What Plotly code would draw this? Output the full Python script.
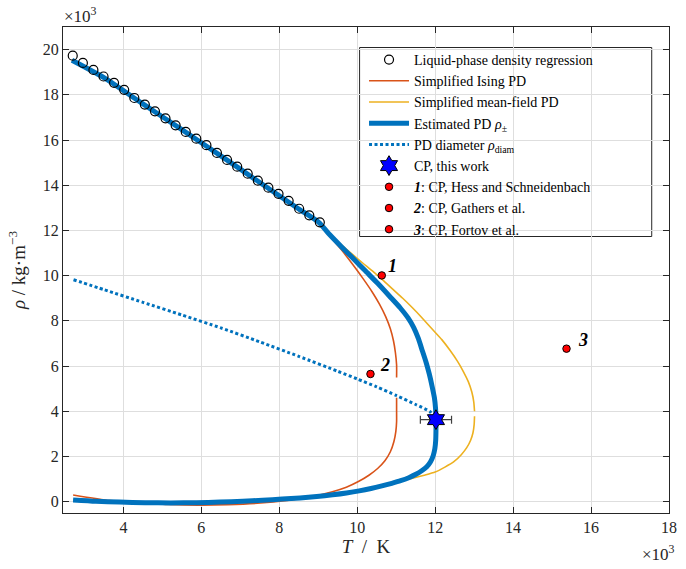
import plotly.graph_objects as go

# ---- data (T in 10^3 K, rho in 10^3 kg/m^3) ----
reg_T = [2.70, 2.96, 3.23, 3.49, 3.76, 4.02, 4.28, 4.55, 4.81, 5.08, 5.34, 5.60, 5.87,
         6.13, 6.40, 6.66, 6.92, 7.19, 7.45, 7.72, 7.98, 8.24, 8.51, 8.77, 9.04]
reg_rho = [19.73, 19.41, 19.10, 18.81, 18.53, 18.22, 17.86, 17.57, 17.27, 16.96, 16.65, 16.36, 16.06,
           15.77, 15.43, 15.12, 14.82, 14.51, 14.20, 13.89, 13.62, 13.31, 12.96, 12.67, 12.36]

est_liq_T = [2.68, 3.5, 4.5, 5.5, 6.5, 7.5, 8.5, 9.02, 9.29, 9.6, 9.91, 10.22, 10.53, 10.83, 11.10,
             11.30, 11.45, 11.57, 11.67, 11.77, 11.85, 11.92, 11.98, 12.01, 12.02]
est_liq_rho = [19.53, 18.76, 17.6, 16.46, 15.3, 14.12, 12.95, 12.35, 11.82, 11.27, 10.74, 10.19, 9.65, 9.09, 8.58,
               8.14, 7.70, 7.21, 6.68, 6.15, 5.64, 5.11, 4.60, 4.12, 3.63]
est_vap_T = [12.02, 12.02, 12.013, 11.992, 11.949, 11.881, 11.785, 11.663, 11.506, 11.324, 11.114, 10.886,
             10.633, 10.354, 10.051, 9.722, 9.367, 8.962, 8.532, 8.076, 7.570, 7.063, 6.481, 5.873, 5.215,
             4.557, 3.899, 3.291, 2.709]
est_vap_rho = [3.63, 3.142, 2.699, 2.345, 2.035, 1.770, 1.549, 1.381, 1.212, 1.062, 0.929, 0.814,
               0.699, 0.584, 0.478, 0.385, 0.305, 0.230, 0.168, 0.115, 0.066, 0.018, -0.018, -0.044, -0.053,
               -0.044, -0.018, 0.018, 0.075]

ising_liq_T = [2.68, 3.5, 4.5, 5.5, 6.5, 7.5, 8.5, 9.02, 9.29, 9.6, 9.9, 10.15, 10.38, 10.57, 10.73,
               10.85, 10.93, 10.98, 11.01, 11.01]
ising_liq_rho = [19.48, 18.74, 17.59, 16.45, 15.29, 14.11, 12.94, 12.34, 11.77, 11.13, 10.46, 9.87, 9.29, 8.74, 8.19,
                 7.65, 7.12, 6.59, 6.06, 5.49]
ising_vap_T = [11.01, 11.01, 11.01, 10.99, 10.94, 10.85, 10.71, 10.53, 10.30, 10.03, 9.72, 9.34, 8.79,
               8.20, 7.52, 6.68, 5.92, 5.17, 4.41, 3.65, 2.71]
ising_vap_rho = [4.60, 4.07, 3.54, 3.10, 2.65, 2.21, 1.81, 1.48, 1.17, 0.89, 0.64, 0.43, 0.21,
                 0.06, -0.06, -0.13, -0.15, -0.12, -0.04, 0.05, 0.30]

mf_liq_T = [2.68, 3.5, 4.5, 5.5, 6.5, 7.5, 8.5, 9.02, 9.29, 9.6, 9.87, 10.14, 10.41, 10.66, 10.91, 11.16,
            11.41, 11.66, 11.91, 12.17, 12.38, 12.57, 12.72, 12.85, 12.94, 12.99, 13.01]
mf_liq_rho = [19.53, 18.76, 17.6, 16.46, 15.3, 14.12, 12.95, 12.35, 11.84, 11.35, 10.95, 10.56, 10.18, 9.80, 9.40, 9.01,
              8.59, 8.14, 7.66, 7.17, 6.70, 6.22, 5.77, 5.31, 4.85, 4.42, 4.00]
mf_vap_T = [13.01, 13.0, 12.97, 12.91, 12.81, 12.67, 12.48, 12.25, 12.0, 11.72, 11.42, 11.114, 10.886,
            10.633, 10.354, 10.051, 9.722, 9.367, 8.962, 8.532, 8.076, 7.570, 7.063, 6.481, 5.873, 5.215,
            4.557, 3.899, 3.291, 2.709]
mf_vap_rho = [3.78, 3.41, 3.05, 2.72, 2.39, 2.08, 1.77, 1.53, 1.31, 1.17, 1.04, 0.929, 0.814,
              0.699, 0.584, 0.478, 0.385, 0.305, 0.230, 0.168, 0.115, 0.066, 0.018, -0.018, -0.044, -0.053,
              -0.044, -0.018, 0.018, 0.075]

diam_T = [2.72, 3.5, 4.5, 5.5, 6.5, 7.5, 8.5, 9.5, 10.0, 10.5, 11.0, 11.5, 11.87, 12.02]
diam_rho = [9.82, 9.38, 8.82, 8.26, 7.69, 7.07, 6.43, 5.77, 5.43, 5.08, 4.7, 4.3, 3.98, 3.63]

cp_T, cp_rho, cp_err = [12.02], [3.63], [0.4]
lit_T = [10.63, 10.34, 15.37]
lit_rho = [10.01, 5.65, 6.77]
lit_labels = ["1", "2", "3"]
lit_names = [": CP, Hess and Schneidenbach", ": CP, Gathers et al.", ": CP, Fortov et al."]
lit_label_dx = [4, 8, 9]   # label offsets in px (style)

xticks = [4, 6, 8, 10, 12, 14, 16, 18]
yticks = [0, 2, 4, 6, 8, 10, 12, 14, 16, 18, 20]

BLUE, ORANGE, YELLOW = "#0072BD", "#D95319", "#EDB120"
FONT = "'Liberation Serif', 'DejaVu Serif', serif"
INK = "#262626"

fig = go.Figure()

sp = dict(shape="spline", smoothing=0.6)
fig.add_trace(go.Scatter(x=ising_liq_T + [None] + ising_vap_T, y=ising_liq_rho + [None] + ising_vap_rho,
                         mode="lines", line=dict(color=ORANGE, width=1.6, **sp),
                         name="Simplified Ising PD", legendrank=2, connectgaps=False))
fig.add_trace(go.Scatter(x=mf_liq_T + [None] + mf_vap_T, y=mf_liq_rho + [None] + mf_vap_rho,
                         mode="lines", line=dict(color=YELLOW, width=1.6, **sp),
                         name="Simplified mean-field PD", legendrank=3, connectgaps=False))
fig.add_trace(go.Scatter(x=est_liq_T + est_vap_T[1:], y=est_liq_rho + est_vap_rho[1:],
                         mode="lines", line=dict(color=BLUE, width=5, **sp),
                         name="Estimated PD <i>ρ</i><sub>±</sub>", legendrank=4))
fig.add_trace(go.Scatter(x=diam_T, y=diam_rho, mode="lines",
                         line=dict(color=BLUE, width=3, dash="3px,2.5px", **sp),
                         name="PD diameter <i>ρ</i><sub>diam</sub>", legendrank=5))
fig.add_trace(go.Scatter(x=reg_T, y=reg_rho, mode="markers",
                         marker=dict(symbol="circle-open", size=9, color="black", line=dict(width=1.2)),
                         name="Liquid-phase density regression", legendrank=1))
fig.add_trace(go.Scatter(x=cp_T, y=cp_rho, mode="markers",
                         marker=dict(symbol="hexagram", size=15, color="#0000FF", line=dict(color="black", width=1)),
                         error_x=dict(type="data", array=cp_err, color="#404040", thickness=1.2, width=4),
                         name="CP, this work", legendrank=6))
for i in range(3):
    fig.add_trace(go.Scatter(x=[lit_T[i]], y=[lit_rho[i]], mode="markers",
                             marker=dict(symbol="circle", size=7.5, color="#FF0000", line=dict(color="black", width=1)),
                             name="<b><i>" + lit_labels[i] + "</i></b>" + lit_names[i], legendrank=7 + i))
    fig.add_annotation(x=lit_T[i], y=lit_rho[i], text="<b><i>" + lit_labels[i] + "</i></b>", showarrow=False,
                       xanchor="left", yanchor="bottom", xshift=lit_label_dx[i], yshift=-3,
                       font=dict(family=FONT, size=18, color="black"))

axis_common = dict(showline=True, linecolor=INK, linewidth=1, mirror="ticks", ticks="inside",
                   ticklen=6, tickcolor=INK, showgrid=True, gridcolor="#dedede", gridwidth=1,
                   zeroline=False, tickfont=dict(family=FONT, size=16, color=INK))

W, H, L, T_M = 614, 486, 63, 27
fig.update_layout(
    width=686, height=569, margin=dict(l=L, r=9, t=T_M, b=56),
    paper_bgcolor="white", plot_bgcolor="white",
    xaxis=dict(range=[2.45, 18], tickvals=xticks, ticktext=[str(v) for v in xticks],
               title=dict(text="<i>T</i>\u00a0\u00a0/\u00a0\u00a0K", font=dict(family=FONT, size=19, color=INK), standoff=4),
               **axis_common),
    yaxis=dict(range=[-0.5, 21], tickvals=yticks, ticktext=[str(v) for v in yticks],
               title=dict(text="<i>ρ</i> / kg·m<sup>−3</sup>", font=dict(family=FONT, size=19, color=INK), standoff=12),
               **axis_common),
    legend=dict(x=(368 - L) / W, y=1 - (44 - T_M) / H, xanchor="left", yanchor="top", bgcolor="rgba(0,0,0,0)",
                borderwidth=0, font=dict(family=FONT, size=14, color="black"),
                tracegroupgap=0, itemwidth=40),
    showlegend=True,
    shapes=[dict(type="rect", xref="paper", yref="paper", layer="between",
                 x0=(363.5 - L) / W, x1=(659.5 - L) / W, y0=1 - (236.5 - T_M) / H, y1=1 - (47.5 - T_M) / H,
                 line=dict(color=INK, width=1), fillcolor="white")],
)
fig.add_annotation(xref="paper", yref="paper", x=-0.002, y=1, xanchor="left", yanchor="bottom", yshift=-1,
                   text="×10<sup>3</sup>", showarrow=False, font=dict(family=FONT, size=17, color=INK))
fig.add_annotation(xref="paper", yref="paper", x=1.014, y=0, xanchor="right", yanchor="top", yshift=-27,
                   text="×10<sup>3</sup>", showarrow=False, font=dict(family=FONT, size=17, color=INK))

fig.write_html("out.html")
